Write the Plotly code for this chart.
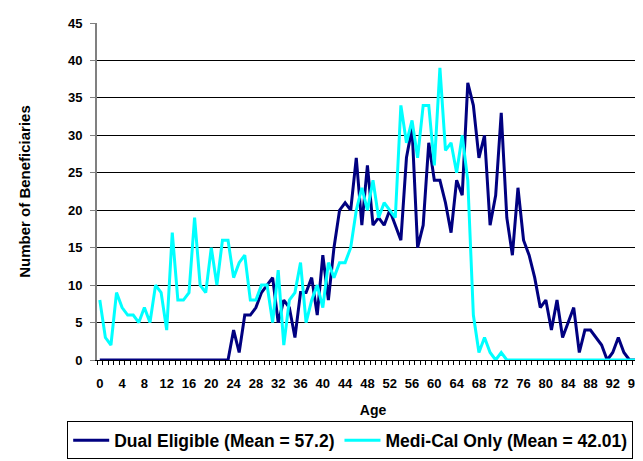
import plotly.graph_objects as go

ages = list(range(0, 99))

dual_eligible = [0]*24 + [
    4, 1, 6, 6, 7, 9, 10, 11, 5, 8,        # 24-33
    7, 3, 9, 9, 11, 6, 14, 8, 15, 20,      # 34-43
    21, 20, 27, 18, 26, 18, 19, 18, 20, 18,  # 44-53
    16, 27, 31, 15, 18, 29, 24, 24, 21, 17,  # 54-63
    24, 22, 37, 34, 27, 30, 18, 22, 33, 19,  # 64-73
    14, 23, 16, 14, 11, 7, 8, 4, 8, 3,      # 74-83
    5, 7, 1, 4, 4, 3, 2, 0, 1, 3,           # 84-93
    1, 0, 0, 0, 0]                          # 94-98

medi_cal_only = [
    8, 3, 2, 9, 7, 6, 6, 5, 7, 5,           # 0-9
    10, 9, 4, 17, 8, 8, 9, 19, 10, 9,       # 10-19
    15, 10, 16, 16, 11, 13, 14, 8, 8, 10,   # 20-29
    10, 5, 12, 2, 8, 9, 13, 5, 8, 10,       # 30-39
    7, 13, 11, 13, 13, 15, 20, 23, 20, 24,  # 40-49
    19, 21, 20, 19, 34, 29, 32, 27, 34, 34, # 50-59
    26, 39, 28, 29, 25, 30, 24, 6, 1, 3,    # 60-69
    1, 0, 1] + [0]*26                       # 70-98

x_tick_vals = list(range(0, 97, 4))
x_tick_text = [str(v) for v in x_tick_vals]
y_tick_vals = list(range(0, 46, 5))

series_names = ["Dual Eligible (Mean = 57.2)", "Medi-Cal Only (Mean = 42.01)"]
series_colors = ["#000080", "#00FFFF"]

FONT = "Liberation Sans, Arial, sans-serif"

fig = go.Figure()
fig.add_trace(go.Scatter(x=ages, y=dual_eligible, mode="lines", name=series_names[0],
                         line=dict(color=series_colors[0], width=3)))
fig.add_trace(go.Scatter(x=ages, y=medi_cal_only, mode="lines", name=series_names[1],
                         line=dict(color=series_colors[1], width=3)))

fig.update_layout(
    width=643, height=461,
    margin=dict(l=89, r=2, t=15, b=109, autoexpand=False),
    paper_bgcolor="white", plot_bgcolor="white",
    font=dict(family=FONT, size=13, color="black", weight="bold"),
    showlegend=True,
    legend=dict(orientation="h", x=-0.054, y=-0.182, xanchor="left", yanchor="top",
                bordercolor="black", borderwidth=1,
                font=dict(family=FONT, size=17.5, color="black", weight="bold"),
                itemwidth=36, tracegroupgap=0),
)

fig.update_xaxes(
    range=[-0.5, 98.5], tickmode="array", tickvals=x_tick_vals, ticktext=x_tick_text,
    ticks="", showgrid=False, zeroline=False, automargin=False,
    showline=True, linecolor="black", linewidth=1,
    minor=dict(ticks="outside", tick0=-0.5, dtick=1, ticklen=4, tickcolor="black", tickwidth=1, showgrid=False),
    tickfont=dict(family=FONT, size=13, color="black", weight="bold"),
    ticklabelstandoff=11,
    title=dict(text="Age", font=dict(family=FONT, size=14, color="black", weight="bold"), standoff=15),
    fixedrange=True,
)
fig.update_yaxes(
    range=[0, 45], tickmode="array", tickvals=y_tick_vals,
    ticks="outside", ticklen=5, tickcolor="#808080", automargin=False,
    showgrid=True, gridcolor="black", gridwidth=1, zeroline=False,
    showline=True, linecolor="#808080", linewidth=2,
    tickfont=dict(family=FONT, size=13, color="black", weight="bold"),
    ticklabelstandoff=5,
    title=dict(text="Number of Beneficiaries", font=dict(family=FONT, size=15, color="black", weight="bold"), standoff=34),
    fixedrange=True,
)

fig.write_html("out.html")
